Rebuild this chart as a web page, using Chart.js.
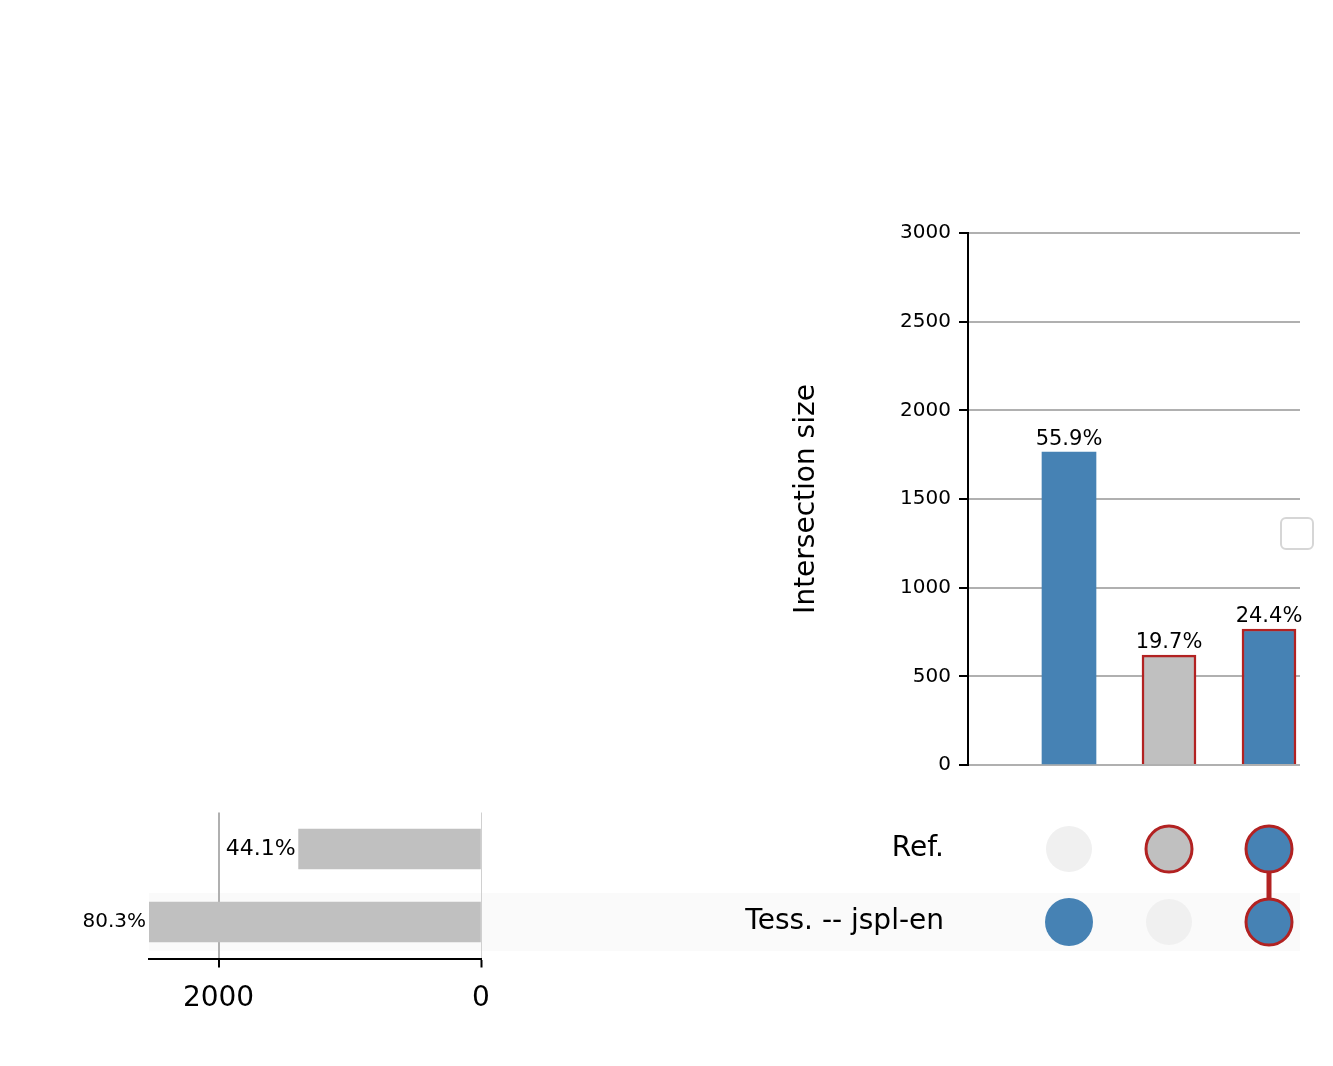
<!DOCTYPE html>
<html><head><meta charset="utf-8">
<script src="https://cdn.jsdelivr.net/npm/chart.js@4/dist/chart.umd.min.js"></script>
<style>
body{margin:0;background:#fff;width:1333px;height:1066px;position:relative;overflow:hidden;font-family:"DejaVu Sans",sans-serif}
canvas{position:absolute;left:0;top:0}
#stripe{position:absolute;left:149px;top:893px;width:1151px;height:58px;background:#fafafa}
#legend{position:absolute;left:1280px;top:517px;width:30px;height:29px;border:2px solid #d6d6d6;border-radius:6px;background:#fff}
</style></head><body>
<div id="stripe"></div>
<div id="legend"></div>
<canvas id="top" width="1333" height="1066"></canvas>
<canvas id="left" width="1333" height="1066"></canvas>
<canvas id="matrix" width="1333" height="1066"></canvas>
<script>
const setNames = ['Ref.', 'Tess. -- jspl-en'];
const setSizes = [1390, 2530];
const setPct = ['44.1%', '80.3%'];
const interSizes = [1765, 620, 767];
const interPct = ['55.9%', '19.7%', '24.4%'];
// membership of each intersection: [Ref, Tess]
const membership = [[0, 1], [1, 0], [1, 1]];
const barColors = ['#4682b4', '#c0c0c0', '#4682b4'];
const barEdges = [null, '#b22222', '#b22222'];

Chart.defaults.font.family = '"DejaVu Sans", sans-serif';
Chart.defaults.color = '#000';
const opts = {responsive: false, animation: false, devicePixelRatio: 1};

const topLabels = {
  id: 'topLabels',
  afterDatasetsDraw(chart) {
    const ctx = chart.ctx;
    const meta = chart.getDatasetMeta(0);
    ctx.save();
    ctx.font = '21px "DejaVu Sans"';
    ctx.textAlign = 'center';
    ctx.textBaseline = 'bottom';
    ctx.fillStyle = '#000';
    meta.data.forEach((b, i) => ctx.fillText(interPct[i], b.x, b.y - 2));
    ctx.restore();
  }
};

new Chart(document.getElementById('top'), {
  type: 'bar',
  data: {datasets: [{
    data: interSizes.map((v, i) => ({x: i, y: v})),
    backgroundColor: barColors,
    borderColor: barEdges.map(c => c || 'rgba(0,0,0,0)'),
    borderWidth: barEdges.map(c => c ? 2.5 : 0),
    barThickness: 54
  }]},
  options: {...opts,
    layout: {padding: {left: 790, top: 233, right: 33, bottom: 301}},
    plugins: {legend: {display: false}, tooltip: {enabled: false}},
    scales: {
      x: {type: 'linear', min: -1.01, max: 2.31, offset: false, display: false},
      y: {min: 0, max: 3000,
        afterFit: s => { s.width = 178; },
        ticks: {stepSize: 500, font: {size: 20}, padding: 8, callback: v => String(v)},
        grid: {color: '#b0b0b0', lineWidth: 2, tickColor: '#000', tickLength: 9, tickWidth: 2},
        border: {color: '#000', width: 2},
        title: {display: true, text: 'Intersection size', font: {size: 28}, padding: 0}
      }
    }
  },
  plugins: [topLabels]
});

const leftLabels = {
  id: 'leftLabels',
  afterDatasetsDraw(chart) {
    const ctx = chart.ctx;
    const meta = chart.getDatasetMeta(0);
    ctx.save();
    ctx.textAlign = 'right';
    ctx.textBaseline = 'middle';
    ctx.fillStyle = '#000';
    meta.data.forEach((b, i) => {
      ctx.font = (i === 0 ? 22 : 20) + 'px "DejaVu Sans"';
      ctx.fillText(setPct[i], b.x - 3, b.y);
    });
    ctx.restore();
  }
};

new Chart(document.getElementById('left'), {
  type: 'bar',
  data: {labels: setNames, datasets: [{
    data: setSizes, backgroundColor: '#c0c0c0', barThickness: 40
  }]},
  options: {...opts, indexAxis: 'y',
    layout: {padding: {left: 149, top: 812.5, right: 852, bottom: 27.5}},
    plugins: {legend: {display: false}, tooltip: {enabled: false}},
    scales: {
      y: {display: false, afterFit: s => { s.width = 0; }},
      x: {min: 0, max: setSizes[1], reverse: true,
        afterFit: s => { s.height = 80; },
        afterBuildTicks: s => { s.ticks = [{value: 0}, {value: 2000}]; },
        ticks: {font: {size: 28}, padding: 14, callback: v => String(v)},
        grid: {color: ctx => ctx.tick && ctx.tick.value === 2000 ? '#b0b0b0' : '#d0d0d0',
               lineWidth: ctx => ctx.tick && ctx.tick.value === 2000 ? 2 : 1,
               tickColor: '#000', tickLength: 9, tickWidth: 2},
        border: {color: '#000', width: 2}
      }
    }
  },
  plugins: [leftLabels]
});

const active = [], inactive = [], red = [], redFill = [], lines = [];
membership.forEach((m, i) => {
  m.forEach((v, r) => {
    if (!v) inactive.push({x: i, y: r});
    else if (barEdges[i]) { red.push({x: i, y: r}); redFill.push(barColors[i]); }
    else active.push({x: i, y: r});
  });
  const rows = m.map((v, r) => v ? r : -1).filter(r => r >= 0);
  if (rows.length > 1) lines.push(rows.map(r => ({x: i, y: r})));
});

const lineSets = lines.map(pts => ({type: 'line', data: pts, borderColor: '#b22222', borderWidth: 5, pointRadius: 0, order: 5}));

new Chart(document.getElementById('matrix'), {
  type: 'scatter',
  data: {datasets: [
    ...lineSets,
    {data: inactive, backgroundColor: '#f0f0f0', borderWidth: 0, pointRadius: 23, order: 1},
    {data: active, backgroundColor: '#4682b4', borderWidth: 0, pointRadius: 24, order: 1},
    {data: red, backgroundColor: redFill, borderColor: '#b22222', borderWidth: 3, pointRadius: 23, order: 1}
  ]},
  options: {...opts,
    layout: {padding: {left: 500, top: 812.5, right: 33, bottom: 107.5}},
    plugins: {legend: {display: false}, tooltip: {enabled: false}},
    scales: {
      x: {type: 'linear', min: -1.01, max: 2.31, display: false},
      y: {min: -0.5, max: 1.5, reverse: true,
        afterFit: s => { s.width = 468; },
        afterBuildTicks: s => { s.ticks = [{value: 0}, {value: 1}]; },
        ticks: {font: {size: 28}, padding: 16, callback: v => setNames[v]},
        grid: {display: false}, border: {display: false}
      }
    }
  }
});
</script>
</body></html>
